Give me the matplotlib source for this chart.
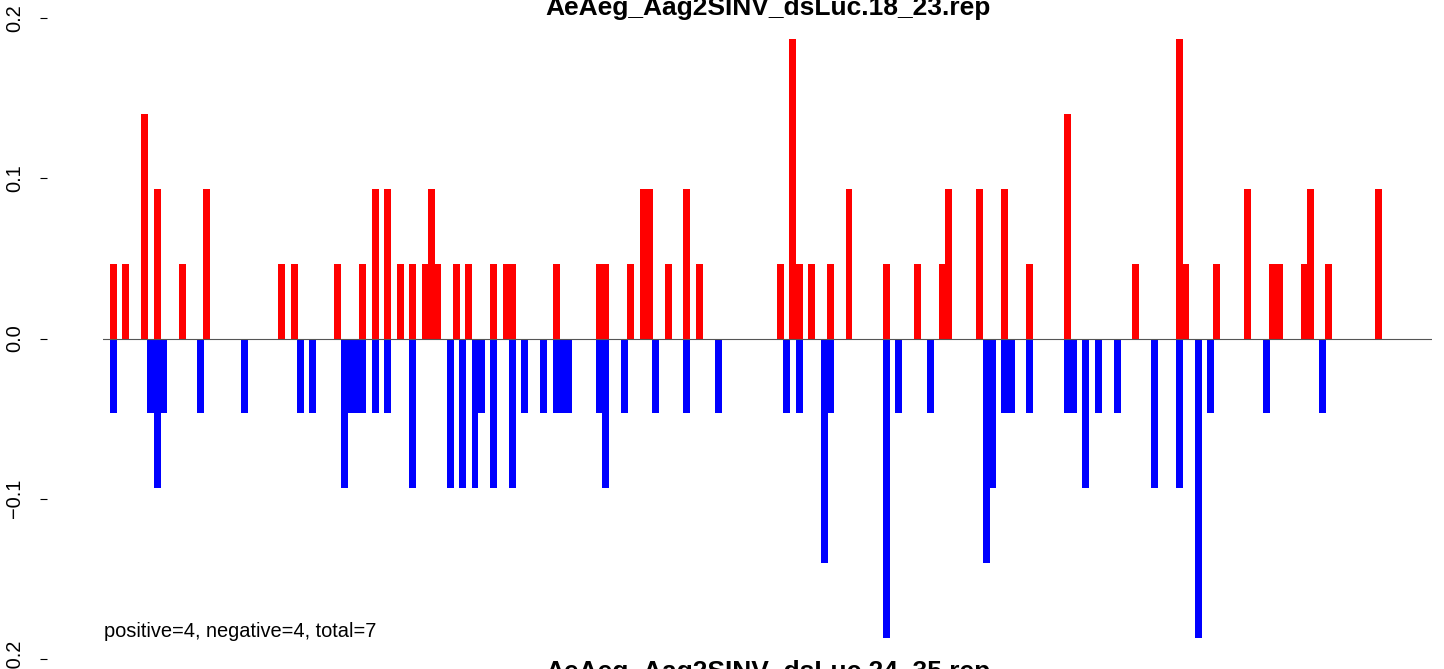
import matplotlib.pyplot as plt

plt.rcParams['font.family'] = ['Liberation Sans', 'DejaVu Sans']

title_top = 'AeAeg_Aag2SINV_dsLuc.18_23.rep'
title_bottom = 'AeAeg_Aag2SINV_dsLuc.24_35.rep'
summary = 'positive=4, negative=4, total=7'

# pozycje i wartosci slupkow dodatnich (czerwone)
pos_x = [0, 2, 5, 7, 11, 15, 27, 29, 36, 40, 42, 44, 46, 48, 50, 51, 52, 55, 57, 61,
         63, 64, 71, 78, 79, 83, 85, 86, 89, 92, 94, 107, 109, 110, 112, 115, 118, 124,
         129, 133, 134, 139, 143, 147, 153, 164, 171, 172, 177, 182, 186, 187, 191, 192,
         195, 203]
pos_y = [0.0467, 0.0467, 0.14, 0.0934, 0.0467, 0.0934, 0.0467, 0.0467, 0.0467, 0.0467,
         0.0934, 0.0934, 0.0467, 0.0467, 0.0467, 0.0934, 0.0467, 0.0467, 0.0467, 0.0467,
         0.0467, 0.0467, 0.0467, 0.0467, 0.0467, 0.0467, 0.0934, 0.0934, 0.0467, 0.0934,
         0.0467, 0.0467, 0.187, 0.0467, 0.0467, 0.0467, 0.0934, 0.0467,
         0.0467, 0.0467, 0.0934, 0.0934, 0.0934, 0.0467, 0.14, 0.0467, 0.187, 0.0467,
         0.0467, 0.0934, 0.0467, 0.0467, 0.0467, 0.0934, 0.0467, 0.0934]

# pozycje i wartosci slupkow ujemnych (niebieskie)
neg_x = [0, 6, 7, 8, 14, 21, 30, 32, 37, 38, 39, 40, 42, 44, 48, 54, 56, 58, 59, 61,
         64, 66, 69, 71, 72, 73, 78, 79, 82, 87, 92, 97, 108, 110, 114, 115, 124, 126,
         131, 140, 141, 143, 144, 147, 153, 154, 156, 158, 161, 167, 171, 174, 176, 185,
         194]
neg_y = [-0.0467, -0.0467, -0.0934, -0.0467, -0.0467, -0.0467, -0.0467, -0.0467,
         -0.0934, -0.0467, -0.0467, -0.0467, -0.0467, -0.0467, -0.0934, -0.0934, -0.0934,
         -0.0934, -0.0467, -0.0934, -0.0934, -0.0467, -0.0467, -0.0467, -0.0467, -0.0467,
         -0.0467, -0.0934, -0.0467, -0.0467, -0.0467, -0.0467, -0.0467, -0.0467, -0.14,
         -0.0467, -0.187, -0.0467, -0.0467, -0.14, -0.0934, -0.0467, -0.0467, -0.0467,
         -0.0467, -0.0467, -0.0934, -0.0467, -0.0467, -0.0934, -0.0934, -0.187, -0.0467,
         -0.0467, -0.0467]

y_ticks = [-0.2, -0.1, 0.0, 0.1, 0.2]
y_labels = ['\u22120.2', '\u22120.1', '0.0', '0.1', '0.2']

W, H = 1444, 669
fig = plt.figure(figsize=(W / 100, H / 100), dpi=100)
ax = fig.add_axes([103 / W, 10 / H, 1329 / W, 641 / H])

ax.bar(pos_x, pos_y, width=1.12, color='#ff0000', linewidth=0)
ax.bar(neg_x, neg_y, width=1.12, color='#0000ff', linewidth=0)
ax.axhline(0, color='#555555', linewidth=0.8, zorder=5)

ax.set_xlim(-1.68, 211.53)
ax.set_ylim(-0.2, 0.2)

for side in ['top', 'right', 'bottom']:
    ax.spines[side].set_visible(False)
ax.spines['left'].set_position(('outward', 40))
ax.spines['left'].set_visible(False)
ax.set_xticks([])
ax.set_yticks(y_ticks)
ax.set_yticklabels(y_labels, rotation=90, va='center', fontsize=14.4)
ax.tick_params(axis='y', length=5, width=0.8, pad=12)

fig.text(768 / W, 1 - 15 / H, title_top, ha='center', va='baseline',
         fontsize=19, fontweight='bold')
fig.text(768 / W, -10 / H, title_bottom, ha='center', va='baseline',
         fontsize=19, fontweight='bold')
fig.text(104 / W, 1 - 637 / H, summary, ha='left', va='baseline', fontsize=14.4)

plt.savefig('out.png', dpi=100)
